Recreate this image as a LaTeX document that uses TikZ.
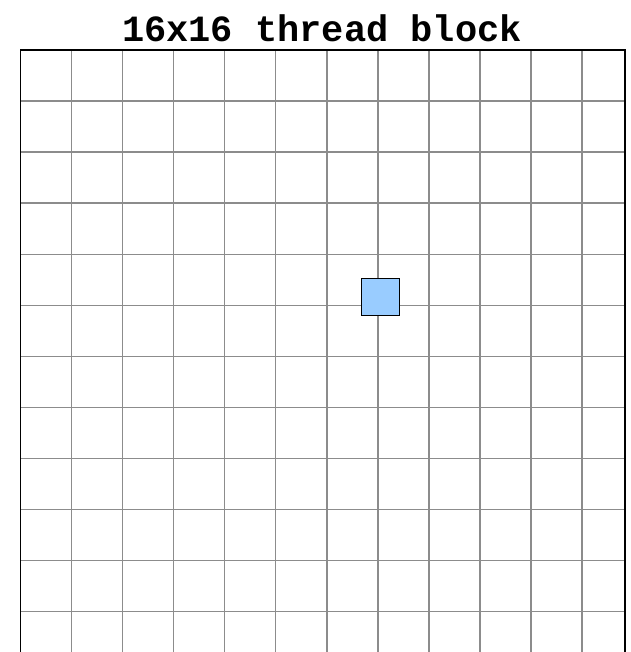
\documentclass[tikz,border=0pt]{standalone}
\usepackage{fontspec}
\setmonofont{Liberation Mono}
\definecolor{gridgray}{HTML}{8C8C8C}
\definecolor{cellblue}{HTML}{99CCFF}
\tikzset{
  gridline/.style={draw=gridgray, line width=1.4pt},
  borderline/.style={draw=black, line width=1.2pt},
  threadcell/.style={draw=black, fill=cellblue, line width=0.8pt, minimum width=38pt, minimum height=37.5pt, inner sep=0pt},
  titletext/.style={font=\ttfamily\bfseries\fontsize{37}{40}\selectfont, inner sep=0pt, anchor=base}
}
\begin{document}
\begin{tikzpicture}[x=1pt,y=-1pt]
\useasboundingbox (0,0) rectangle (630,652);
\node[titletext] (title) at (322,42) {16x16 thread block};
\foreach \k in {1,...,11} {
  \draw[gridline] ({20.5+\k*51.05},50) -- ({20.5+\k*51.05},652);
  \draw[gridline] (20.5,{50+\k*51.05}) -- (625,{50+\k*51.05});
}
\draw[borderline] (20.5,652) -- (20.5,50) -- (625,50) -- (625,652);
\node[threadcell] (thread) at (380.3,297) {};
\end{tikzpicture}
\end{document}
